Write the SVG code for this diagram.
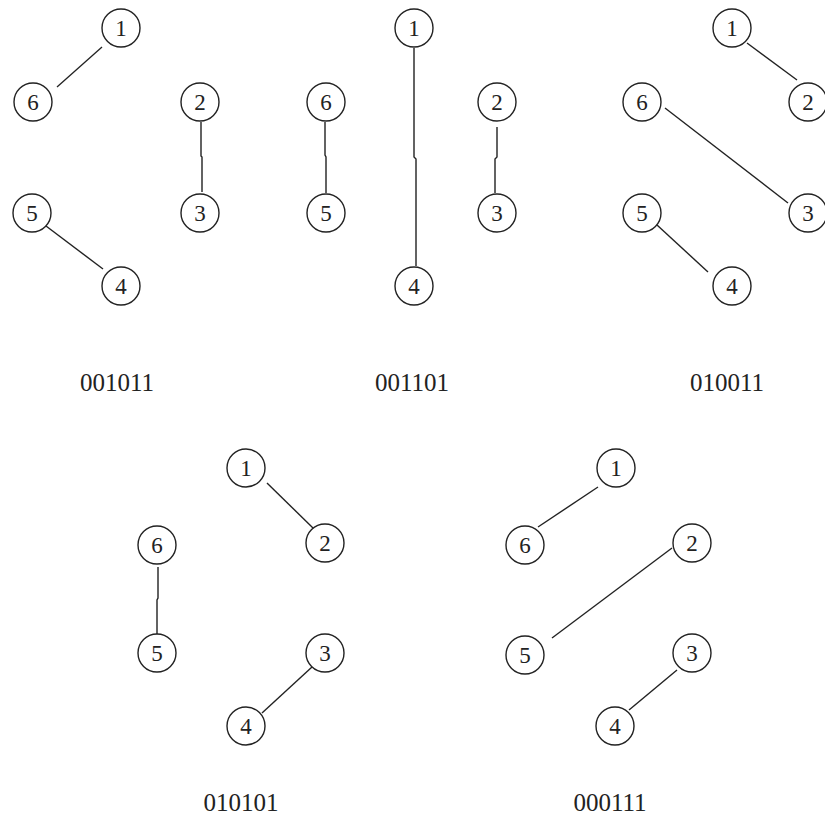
<svg xmlns="http://www.w3.org/2000/svg" width="825" height="818" viewBox="0 0 825 818">
<style>
.n circle{fill:#fff;stroke:#222;stroke-width:1.4}
.n text{font-family:"Liberation Serif","Times New Roman",serif;font-size:23px;text-anchor:middle;fill:#222}
.lbl{font-family:"Liberation Serif","Times New Roman",serif;font-size:25px;text-anchor:middle;fill:#222}
.e line,.e polyline{stroke:#222;stroke-width:1.4;fill:none}
</style>
<rect width="825" height="818" fill="#fff"/>
<g id="connectors" class="e">
<line x1="102" y1="47" x2="57" y2="87"/>
<polyline points="201,122 201,156 202,157 202,192"/>
<line x1="46" y1="226" x2="103" y2="269"/>
<polyline points="414,48 414,157 416,159 416,266"/>
<polyline points="325,122 325,155 326,157 326,193"/>
<polyline points="497,127 497,157 495,159 495,193"/>
<line x1="747" y1="43" x2="797" y2="80"/>
<line x1="665" y1="108" x2="788" y2="203"/>
<line x1="657" y1="225" x2="708" y2="272"/>
<line x1="267" y1="483" x2="313" y2="528"/>
<polyline points="158,567 158,598 157,600 157,634"/>
<line x1="312" y1="667" x2="262" y2="713"/>
<line x1="598" y1="487" x2="538" y2="527"/>
<line x1="672" y1="548" x2="552" y2="638"/>
<line x1="677" y1="670" x2="629" y2="710"/>
</g>
<g id="p1-1" class="n"><circle cx="121" cy="28" r="19"/><text x="121" y="36">1</text></g>
<g id="p1-6" class="n"><circle cx="33" cy="102" r="19"/><text x="33" y="110">6</text></g>
<g id="p1-2" class="n"><circle cx="200" cy="102" r="19"/><text x="200" y="110">2</text></g>
<g id="p1-3" class="n"><circle cx="200" cy="213" r="19"/><text x="200" y="221">3</text></g>
<g id="p1-5" class="n"><circle cx="32" cy="213" r="19"/><text x="32" y="221">5</text></g>
<g id="p1-4" class="n"><circle cx="121" cy="286" r="19"/><text x="121" y="294">4</text></g>

<g id="p2-1" class="n"><circle cx="414" cy="28" r="19"/><text x="414" y="36">1</text></g>
<g id="p2-6" class="n"><circle cx="326" cy="102" r="19"/><text x="326" y="110">6</text></g>
<g id="p2-2" class="n"><circle cx="497" cy="102" r="19"/><text x="497" y="110">2</text></g>
<g id="p2-5" class="n"><circle cx="326" cy="213" r="19"/><text x="326" y="221">5</text></g>
<g id="p2-3" class="n"><circle cx="497" cy="213" r="19"/><text x="497" y="221">3</text></g>
<g id="p2-4" class="n"><circle cx="414" cy="286" r="19"/><text x="414" y="294">4</text></g>

<g id="p3-1" class="n"><circle cx="732" cy="28" r="19"/><text x="732" y="36">1</text></g>
<g id="p3-2" class="n"><circle cx="808" cy="102" r="19"/><text x="808" y="110">2</text></g>
<g id="p3-6" class="n"><circle cx="642" cy="102" r="19"/><text x="642" y="110">6</text></g>
<g id="p3-3" class="n"><circle cx="808" cy="213" r="19"/><text x="808" y="221">3</text></g>
<g id="p3-5" class="n"><circle cx="642" cy="213" r="19"/><text x="642" y="221">5</text></g>
<g id="p3-4" class="n"><circle cx="732" cy="286" r="19"/><text x="732" y="294">4</text></g>

<g id="p4-1" class="n"><circle cx="246" cy="468" r="19"/><text x="246" y="476">1</text></g>
<g id="p4-2" class="n"><circle cx="325" cy="543" r="19"/><text x="325" y="551">2</text></g>
<g id="p4-6" class="n"><circle cx="157" cy="545" r="19"/><text x="157" y="553">6</text></g>
<g id="p4-5" class="n"><circle cx="157" cy="653" r="19"/><text x="157" y="661">5</text></g>
<g id="p4-3" class="n"><circle cx="325" cy="653" r="19"/><text x="325" y="661">3</text></g>
<g id="p4-4" class="n"><circle cx="246" cy="726" r="19"/><text x="246" y="734">4</text></g>

<g id="p5-1" class="n"><circle cx="616" cy="468" r="19"/><text x="616" y="476">1</text></g>
<g id="p5-6" class="n"><circle cx="525" cy="545" r="19"/><text x="525" y="553">6</text></g>
<g id="p5-2" class="n"><circle cx="692" cy="543" r="19"/><text x="692" y="551">2</text></g>
<g id="p5-5" class="n"><circle cx="525" cy="655" r="19"/><text x="525" y="663">5</text></g>
<g id="p5-3" class="n"><circle cx="692" cy="653" r="19"/><text x="692" y="661">3</text></g>
<g id="p5-4" class="n"><circle cx="615" cy="726" r="19"/><text x="615" y="734">4</text></g>

<g id="labels">
<text class="lbl" x="117" y="391">001011</text>
<text class="lbl" x="412" y="391">001101</text>
<text class="lbl" x="727" y="391">010011</text>
<text class="lbl" x="241" y="811">010101</text>
<text class="lbl" x="610" y="811">000111</text>
</g>
</svg>
